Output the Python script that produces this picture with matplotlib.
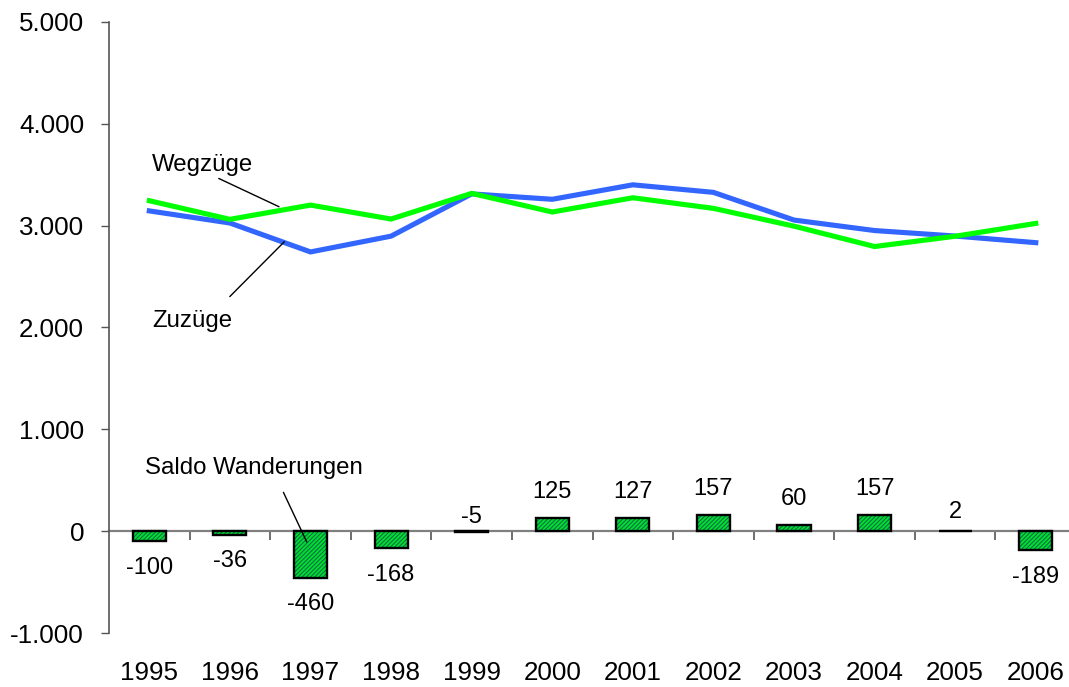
import matplotlib
matplotlib.use("Agg")
import matplotlib.pyplot as plt
import numpy as np

years = ["1995", "1996", "1997", "1998", "1999", "2000",
         "2001", "2002", "2003", "2004", "2005", "2006"]
zuzuege = [3145, 3026, 2742, 2897, 3312, 3259, 3401, 3327, 3055, 2952, 2898, 2833]
wegzuege = [3245, 3062, 3202, 3065, 3317, 3134, 3274, 3170, 2995, 2795, 2896, 3022]
saldo = [-100, -36, -460, -168, -5, 125, 127, 157, 60, 157, 2, -189]
yticks = [-1000, 0, 1000, 2000, 3000, 4000, 5000]
ytick_labels = ["-1.000", "0", "1.000", "2.000", "3.000", "4.000", "5.000"]

plt.rcParams['font.family'] = ['Liberation Sans', 'DejaVu Sans']
plt.rcParams['hatch.linewidth'] = 0.7

fig = plt.figure(figsize=(10.69, 6.87), dpi=100)
ax = fig.add_axes([0.102, 0.0786, 0.9046, 0.8894])

x = np.arange(len(years))
ax.set_xlim(-0.5, len(years) - 0.5)
ax.set_ylim(-1000, 5000)

# bars with hatching
ax.bar(x, saldo, width=0.41, color='#00e02a', edgecolor='#0a5f55',
       hatch='////////', linewidth=0, zorder=3)
ax.bar(x, saldo, width=0.41, fill=False, edgecolor='black', linewidth=1.7, zorder=4)

# lines
ax.plot(x, zuzuege, color='#3366ff', lw=3.7, zorder=5, solid_joinstyle='miter')
ax.plot(x, wegzuege, color='#00ff00', lw=3.7, zorder=6, solid_joinstyle='miter')

# data labels
for xi, v in zip(x, saldo):
    if v >= 0:
        off = 11 if v > 10 else 6
        ax.annotate(str(v), (xi, v), xytext=(0, off), textcoords='offset points',
                    ha='center', va='bottom', fontsize=17)
    elif v > -10:
        ax.annotate(str(v), (xi, 0), xytext=(0, 2), textcoords='offset points',
                    ha='center', va='bottom', fontsize=17)
    else:
        ax.annotate(str(v), (xi, v), xytext=(0, -11), textcoords='offset points',
                    ha='center', va='top', fontsize=17)

# axes styling
for s in ['top', 'right']:
    ax.spines[s].set_visible(False)
ax.spines['left'].set_color('#555555')
ax.spines['left'].set_linewidth(1.2)
ax.spines['bottom'].set_position(('data', 0))
ax.spines['bottom'].set_color('#808080')
ax.spines['bottom'].set_linewidth(1.6)
ax.spines['bottom'].set_zorder(2)

ax.set_yticks(yticks)
ax.set_yticklabels(ytick_labels)
ax.tick_params(axis='y', length=6, width=1.0, color='#555555', pad=12, labelsize=18.7)

ax.set_xticks(np.arange(0.5, len(years) - 0.5, 1.0))
ax.set_xticklabels([])
ax.tick_params(axis='x', length=6.5, width=1.2, color='#555555', direction='out')

trans = ax.get_xaxis_transform()
for xi, lab in zip(x, years):
    ax.text(xi, -0.065, lab, transform=trans, ha='center', va='center', fontsize=18.7)

# callouts
ax.annotate("Wegzüge", xy=(1.609, 3186), xytext=(0.034, 3540),
            ha='left', va='baseline', fontsize=17.3, zorder=7,
            arrowprops=dict(arrowstyle='-', color='black', lw=1.0,
                            shrinkA=0, shrinkB=0, relpos=(0.6, 0)))
ax.annotate("Zuzüge", xy=(1.675, 2842), xytext=(0.034, 2007),
            ha='left', va='baseline', fontsize=17.3, zorder=7,
            arrowprops=dict(arrowstyle='-', color='black', lw=1.0,
                            shrinkA=0, shrinkB=0, relpos=(0.97, 1.6)))
ax.annotate("Saldo Wanderungen", xy=(1.953, -105), xytext=(-0.052, 560),
            ha='left', va='baseline', fontsize=17.3, zorder=7,
            arrowprops=dict(arrowstyle='-', color='black', lw=1.0,
                            shrinkA=0, shrinkB=0, relpos=(0.635, -0.6)))

fig.savefig("out.png", dpi=100)
